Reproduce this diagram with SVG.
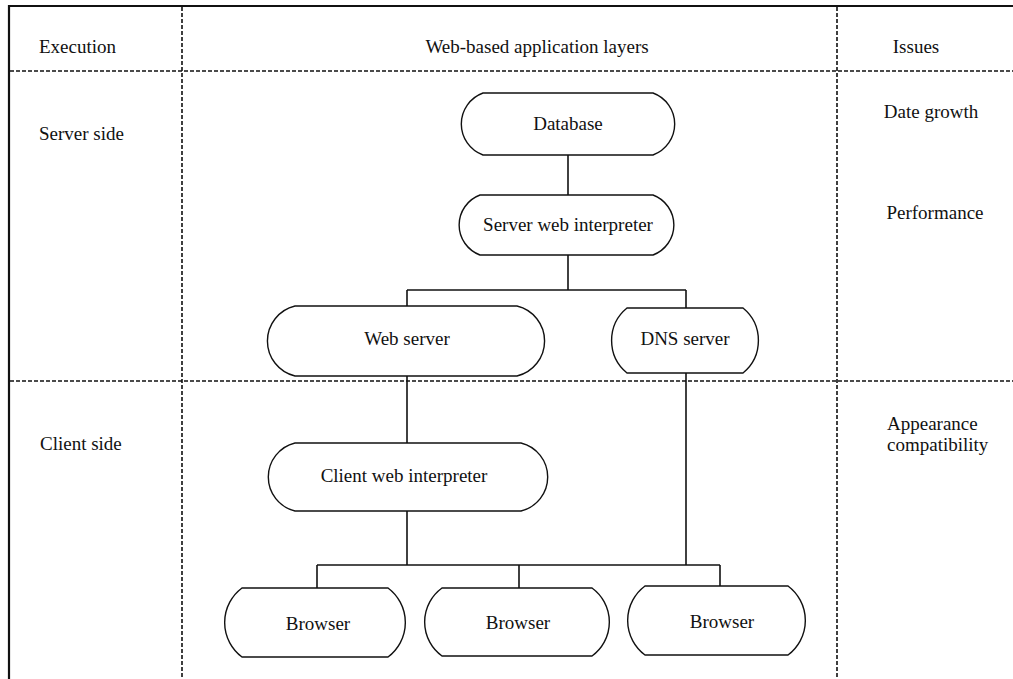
<svg xmlns="http://www.w3.org/2000/svg" width="1013" height="679" viewBox="0 0 1013 679" font-family="'Liberation Serif', 'Times New Roman', 'DejaVu Serif', serif">
<style>
text{font-family:'Liberation Serif','Times New Roman','DejaVu Serif',serif;font-size:19px;fill:#111}
.c{text-anchor:middle}
.node{fill:#fff;stroke:#111;stroke-width:1.4}
.dash{stroke:#111;stroke-width:1.6;stroke-dasharray:4 2;fill:none}
.frame{stroke:#111;stroke-width:2.2;fill:none}
.conn line{stroke:#111;stroke-width:1.6}
</style>
<rect width="1013" height="679" fill="#fff"/>
<g id="grid">
<line class="frame" x1="9" y1="6" x2="1013" y2="6"/>
<line class="frame" x1="9" y1="5" x2="9" y2="679"/>
<line class="dash" x1="182" y1="7" x2="182" y2="679"/>
<line class="dash" x1="837" y1="7" x2="837" y2="679"/>
<line class="dash" x1="10" y1="71" x2="1013" y2="71"/>
<line class="dash" x1="10" y1="381" x2="1013" y2="381"/>
</g>
<g id="labels">
<text x="39" y="53">Execution</text>
<text class="c" x="537" y="53">Web-based application layers</text>
<text class="c" x="916" y="53">Issues</text>
<text x="39" y="140">Server side</text>
<text x="40" y="450">Client side</text>
<text class="c" x="931" y="118">Date growth</text>
<text class="c" x="935" y="219">Performance</text>
<text x="887" y="430">Appearance</text>
<text x="887" y="451">compatibility</text>
</g>
<g id="connectors" class="conn">
<line x1="568" y1="155" x2="568" y2="195"/>
<line x1="568" y1="255" x2="568" y2="290"/>
<line x1="407" y1="290" x2="686" y2="290"/>
<line x1="407" y1="290" x2="407" y2="306"/>
<line x1="686" y1="290" x2="686" y2="308"/>
<line x1="407" y1="376" x2="407" y2="443"/>
<line x1="686" y1="373" x2="686" y2="565"/>
<line x1="407" y1="511" x2="407" y2="565"/>
<line x1="317" y1="565" x2="720" y2="565"/>
<line x1="317" y1="565" x2="317" y2="588"/>
<line x1="519" y1="565" x2="519" y2="588"/>
<line x1="720" y1="565" x2="720" y2="586"/>
</g>
<g id="database">
<path class="node" d="M483,93 L653,93 A33,33 0 0 1 653,155 L483,155 A33,33 0 0 1 483,93 Z"/>
<text class="c" x="568" y="130">Database</text>
</g>
<g id="server-web-interpreter">
<path class="node" d="M480,195 L653,195 A32,32 0 0 1 653,255 L480,255 A32,32 0 0 1 480,195 Z"/>
<text class="c" x="568" y="231">Server web interpreter</text>
</g>
<g id="web-server">
<path class="node" d="M295,306 L517,306 A36,36 0 0 1 517,376 L295,376 A36,36 0 0 1 295,306 Z"/>
<text class="c" x="407" y="345">Web server</text>
</g>
<g id="dns-server">
<path class="node" d="M627,308 L743,308 A42,42 0 0 1 743,373 L627,373 A42,42 0 0 1 627,308 Z"/>
<text class="c" x="685" y="345">DNS server</text>
</g>
<g id="client-web-interpreter">
<path class="node" d="M295,443 L521,443 A35,35 0 0 1 521,511 L295,511 A35,35 0 0 1 295,443 Z"/>
<text class="c" x="404" y="482">Client web interpreter</text>
</g>
<g id="browser-1">
<path class="node" d="M242,588 L388,588 A43,43 0 0 1 388,657 L242,657 A43,43 0 0 1 242,588 Z"/>
<text class="c" x="318" y="630">Browser</text>
</g>
<g id="browser-2">
<path class="node" d="M442,588 L592,588 A42,42 0 0 1 592,656 L442,656 A42,42 0 0 1 442,588 Z"/>
<text class="c" x="518" y="629">Browser</text>
</g>
<g id="browser-3">
<path class="node" d="M645,586 L788,586 A43,43 0 0 1 788,655 L645,655 A43,43 0 0 1 645,586 Z"/>
<text class="c" x="722" y="628">Browser</text>
</g>
</svg>
